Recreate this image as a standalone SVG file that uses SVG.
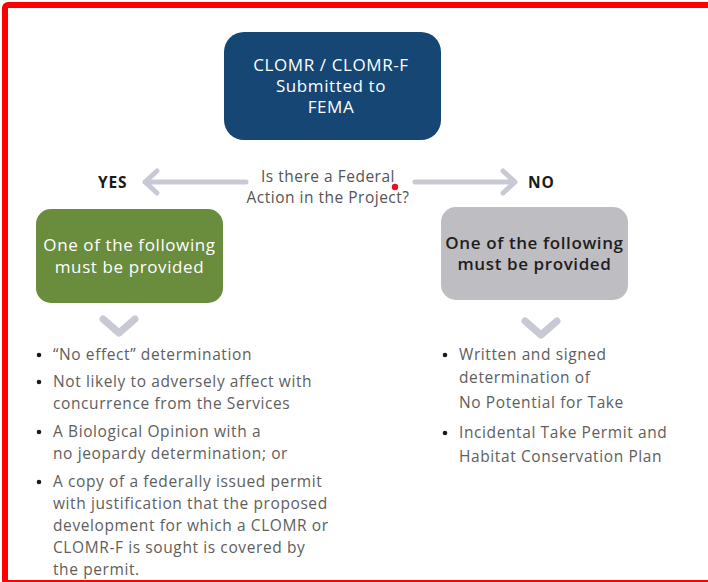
<svg xmlns="http://www.w3.org/2000/svg" width="708" height="582" viewBox="0 0 708 582">
  <style>
    .frame { fill: #ffffff; stroke: #ff0000; stroke-width: 6; }
    .box-text { font-family: "Open Sans", "Noto Sans", "DejaVu Sans", sans-serif; font-size: 17px; letter-spacing: 0.6px; text-anchor: middle; }
    .white { fill: #ffffff; }
    .dark { fill: #1e1e1e; }
    .q { font-family: "Open Sans", "Noto Sans", sans-serif; font-size: 15.5px; letter-spacing: 0.5px; fill: #555555; text-anchor: middle; }
    .label { font-family: "Open Sans", "Noto Sans", sans-serif; font-size: 15.5px; letter-spacing: 0.8px; font-weight: bold; fill: #1a1a1a; }
    .item { font-family: "Open Sans", "Noto Sans", sans-serif; font-size: 15.5px; letter-spacing: 0.6px; fill: #5e5e5e; }
    .arrow { fill: none; stroke: #c9c9d6; stroke-width: 5; stroke-linecap: round; stroke-linejoin: round; }
    .chev { fill: none; stroke: #c9c9d6; stroke-width: 7; stroke-linecap: round; stroke-linejoin: round; }
    .dot { fill: #1a1a1a; }
  </style>

  <!-- outer frame -->
  <rect class="frame" x="5" y="5" width="706" height="578" rx="3"/>

  <!-- start node -->
  <g id="node-submitted">
    <rect x="224" y="32" width="217" height="108" rx="20" fill="#154674"/>
    <text class="box-text white" x="331" y="71">CLOMR / CLOMR-F</text>
    <text class="box-text white" x="331" y="92">Submitted to</text>
    <text class="box-text white" x="331" y="113">FEMA</text>
  </g>

  <!-- decision question -->
  <g id="node-question">
    <text class="q" x="328" y="182">Is there a Federal</text>
    <text class="q" x="328" y="203">Action in the Project?</text>
    <circle cx="395" cy="187" r="3.2" fill="#e8141c"/>
  </g>

  <!-- branch labels -->
  <g id="label-yes">
    <text class="label" x="98" y="188">YES</text>
  </g>
  <g id="label-no">
    <text class="label" x="528" y="188">NO</text>
  </g>

  <!-- yes branch node -->
  <g id="node-yes">
    <rect x="36" y="209" width="187" height="94" rx="15" fill="#6a8c3d"/>
    <text class="box-text white" x="129.5" y="251" font-size="17.5" letter-spacing="0.85">One of the following</text>
    <text class="box-text white" x="129.5" y="273" font-size="17.5" letter-spacing="0.85">must be provided</text>
  </g>

  <!-- no branch node -->
  <g id="node-no">
    <rect x="441" y="207" width="187" height="93" rx="15" fill="#bebdc2"/>
    <text class="box-text dark" x="534.5" y="249" font-size="17" letter-spacing="0.5" font-weight="600">One of the following</text>
    <text class="box-text dark" x="534.5" y="270" font-size="17" letter-spacing="0.5" font-weight="600">must be provided</text>
  </g>

  <!-- connectors -->
  <g id="connectors">
    <path class="arrow" d="M246 182 H145 M157 171 L145 182 L157 193"/>
    <path class="arrow" d="M415 182 H515 M503 171 L515 182 L503 193"/>
    <path class="chev" d="M103 319 L119 333 L135 319"/>
    <path class="chev" d="M525 321 L541 335 L557 321"/>
  </g>

  <!-- yes branch requirements -->
  <g id="list-yes">
    <circle class="dot" cx="39" cy="355" r="2.3"/>
    <text class="item" x="53" y="360">“No effect” determination</text>
    <circle class="dot" cx="39" cy="382" r="2.3"/>
    <text class="item" x="53" y="387">Not likely to adversely affect with</text>
    <text class="item" x="53" y="409">concurrence from the Services</text>
    <circle class="dot" cx="39" cy="432" r="2.3"/>
    <text class="item" x="53" y="437">A Biological Opinion with a</text>
    <text class="item" x="53" y="459">no jeopardy determination; or</text>
    <circle class="dot" cx="39" cy="482" r="2.3"/>
    <text class="item" x="53" y="487">A copy of a federally issued permit</text>
    <text class="item" x="53" y="509">with justification that the proposed</text>
    <text class="item" x="53" y="531">development for which a CLOMR or</text>
    <text class="item" x="53" y="553">CLOMR-F is sought is covered by</text>
    <text class="item" x="53" y="575">the permit.</text>
  </g>

  <!-- no branch requirements -->
  <g id="list-no">
    <circle class="dot" cx="445" cy="355" r="2.3"/>
    <text class="item" x="459" y="360">Written and signed</text>
    <text class="item" x="459" y="383">determination of</text>
    <text class="item" x="459" y="408">No Potential for Take</text>
    <circle class="dot" cx="445" cy="433" r="2.3"/>
    <text class="item" x="459" y="438">Incidental Take Permit and</text>
    <text class="item" x="459" y="462">Habitat Conservation Plan</text>
  </g>
</svg>
